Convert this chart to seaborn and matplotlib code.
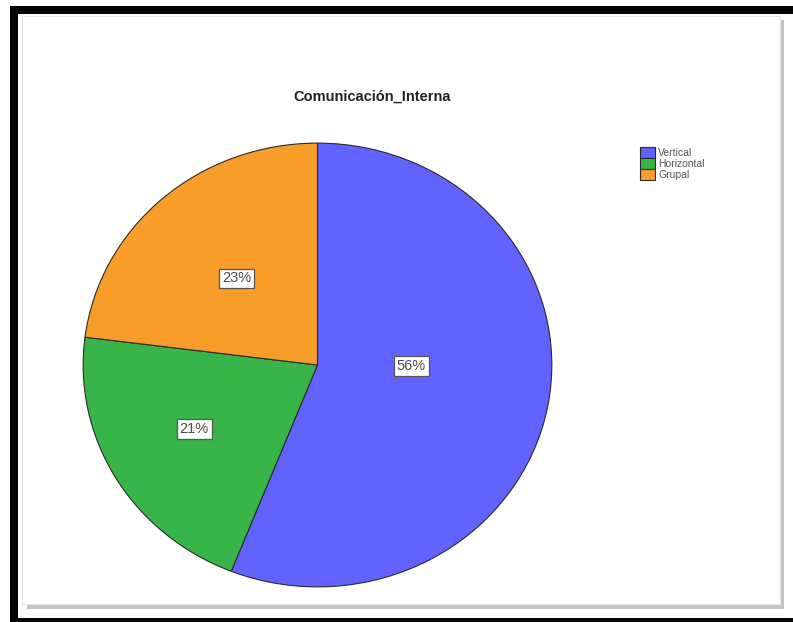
import numpy as np
import matplotlib
matplotlib.use("Agg")
import matplotlib.pyplot as plt
from matplotlib.patches import Rectangle
import seaborn as sns

categories = ["Vertical", "Horizontal", "Grupal"]
values = [56, 21, 23]
colors = ["#6262FF", "#37B548", "#F89C2A"]
title = "Comunicación_Interna"

sns.set_theme(style="white")
plt.rcParams["font.family"] = ["Liberation Sans", "DejaVu Sans"]

W, H = 793, 622
fig = plt.figure(figsize=(W / 100, H / 100), dpi=100)
fig.patch.set_facecolor("white")

def px(x0, y0, x1, y1, **kw):
    r = Rectangle((x0 / W, 1 - y1 / H), (x1 - x0) / W, (y1 - y0) / H,
                  transform=fig.transFigure, **kw)
    fig.add_artist(r)
    return r

# black frame (left, top, bottom)
px(10, 6, 793, 14, facecolor="black", edgecolor="none", zorder=0)
px(10, 6, 18, 622, facecolor="black", edgecolor="none", zorder=0)
px(10, 618, 793, 622, facecolor="black", edgecolor="none", zorder=0)
# panel shadow and panel
px(27, 20, 784, 609, facecolor="#c4c4c4", edgecolor="none", zorder=0)
px(22, 16, 780, 604, facecolor="white", edgecolor="#e6e6e6", linewidth=0.8, zorder=0)

# pie axes (slightly elliptical like the reference)
cx0, cx1, cy0, cy1 = 82, 553, 142, 588
ax = fig.add_axes([cx0 / W, 1 - cy1 / H, (cx1 - cx0) / W, (cy1 - cy0) / H])
wedges, texts, autotexts = ax.pie(
    values, colors=colors, startangle=90, counterclock=False,
    autopct=lambda p: f"{p:.0f}%", pctdistance=0.5,
    wedgeprops=dict(edgecolor="#2a2a2a", linewidth=0.8),
    textprops=dict(fontsize=10.5, color="#4a4a4a"),
)
ax.set_aspect("auto")
ax.set_xlim(-1.005, 1.005)
ax.set_ylim(-1.005, 1.005)
ax.axis("off")

label_r = [0.40, 0.60, 0.52]
label_turn = [10, -2, 0]
for w, t, r, d in zip(wedges, autotexts, label_r, label_turn):
    ang = np.deg2rad((w.theta1 + w.theta2) / 2 + d)
    t.set_position((r * np.cos(ang), r * np.sin(ang)))
    t.set_bbox(dict(boxstyle="square,pad=0.2", facecolor="white",
                    edgecolor="#555555", linewidth=0.9))

fig.text(372 / W, 1 - 97 / H, title, ha="center", va="center",
         fontsize=10.5, fontweight="bold", color="#222222")

leg = fig.legend(wedges, categories, loc="upper left",
                 bbox_to_anchor=(633 / W, 1 - 140 / H), frameon=False,
                 fontsize=7.5, handlelength=1.4, handleheight=1.25,
                 handletextpad=0.3, labelspacing=0.0, borderpad=0.2)
for t in leg.get_texts():
    t.set_color("#555555")

fig.savefig("out.png", dpi=100, facecolor="white")
